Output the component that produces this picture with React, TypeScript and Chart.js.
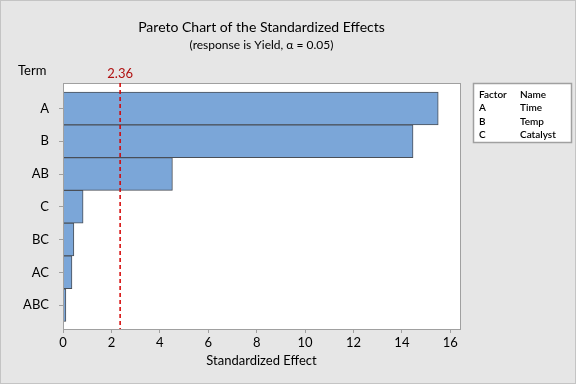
import React, { useEffect, useRef } from "react";
import { Chart, registerables } from "chart.js";

Chart.register(...registerables);

const terms = ["A", "B", "AB", "C", "BC", "AC", "ABC"];
const effects = [15.5, 14.46, 4.52, 0.83, 0.45, 0.37, 0.12];
const xTicks = [0, 2, 4, 6, 8, 10, 12, 14, 16];
const criticalValue = 2.36;
const factorCodes = ["A", "B", "C"];
const factorNames = ["Time", "Temp", "Catalyst"];

const FONT = "Lato, 'Noto Sans', sans-serif";

const decorPlugin = {
  id: "decor",
  beforeDraw(chart: any) {
    const { ctx, chartArea, width, height } = chart;
    ctx.save();
    ctx.fillStyle = "#e6e6e6";
    ctx.fillRect(0, 0, width, height);
    ctx.strokeStyle = "#c4c4c4";
    ctx.lineWidth = 1;
    ctx.strokeRect(0.5, 0.5, width - 1, height - 1);
    ctx.fillStyle = "#ffffff";
    ctx.fillRect(chartArea.left, chartArea.top, chartArea.right - chartArea.left, chartArea.bottom - chartArea.top);
    ctx.restore();
  },
  afterDraw(chart: any) {
    const { ctx, chartArea } = chart;
    const xs = chart.scales.x;
    const cx = (chartArea.left + chartArea.right) / 2;
    ctx.save();
    ctx.strokeStyle = "#a0a0a0";
    ctx.lineWidth = 1;
    ctx.strokeRect(Math.round(chartArea.left) + 0.5, Math.round(chartArea.top) + 0.5,
      Math.round(chartArea.right - chartArea.left), Math.round(chartArea.bottom - chartArea.top));
    const rx = xs.getPixelForValue(criticalValue);
    ctx.strokeStyle = "#d40000";
    ctx.lineWidth = 1.5;
    ctx.setLineDash([4, 3]);
    ctx.beginPath();
    ctx.moveTo(rx, chartArea.top);
    ctx.lineTo(rx, chartArea.bottom);
    ctx.stroke();
    ctx.setLineDash([]);
    ctx.fillStyle = "#b01010";
    ctx.font = `13px ${FONT}`;
    ctx.textAlign = "center";
    ctx.textBaseline = "middle";
    ctx.fillText(String(criticalValue), rx, 74);
    ctx.fillStyle = "#000000";
    ctx.font = `14px ${FONT}`;
    ctx.fillText("Pareto Chart of the Standardized Effects", cx, 27);
    ctx.font = `12px ${FONT}`;
    ctx.fillText("(response is Yield, \u03b1 = 0.05)", cx, 45);
    ctx.font = `13px ${FONT}`;
    ctx.fillText("Standardized Effect", cx, 361);
    ctx.textAlign = "left";
    ctx.fillText("Term", 18, 71);
    ctx.fillStyle = "#ffffff";
    ctx.fillRect(473, 83, 99, 60);
    ctx.strokeStyle = "#a0a0a0";
    ctx.strokeRect(473.5, 83.5, 98, 59);
    ctx.fillStyle = "#000000";
    ctx.font = `600 10px ${FONT}`;
    ctx.fillText("Factor", 479, 95);
    ctx.fillText("Name", 520, 95);
    factorCodes.forEach((c, i) => {
      ctx.fillText(c, 479, 108 + i * 13.3);
      ctx.fillText(factorNames[i], 520, 108 + i * 13.3);
    });
    ctx.restore();
  },
};

export default function App() {
  const ref = useRef<HTMLCanvasElement>(null);
  useEffect(() => {
    if (!ref.current) return;
    const chart = new Chart(ref.current, {
      type: "bar",
      data: {
        datasets: [
          {
            data: effects.map((v, i) => ({ x: v, y: i })),
            backgroundColor: "#7ba6d8",
            borderColor: "#4a4f57",
            borderWidth: 1,
            barPercentage: 1,
            categoryPercentage: 1,
          },
        ],
      },
      options: {
        indexAxis: "y",
        responsive: false,
        animation: false,
        layout: { padding: { left: 0, right: 116, top: 83, bottom: 0 } },
        plugins: { legend: { display: false }, tooltip: { enabled: false }, title: { display: false } },
        scales: {
          x: {
            type: "linear",
            min: 0,
            max: 16.4,
            offset: false,
            afterBuildTicks: (s: any) => {
              s.ticks = xTicks.map((v) => ({ value: v }));
            },
            afterFit: (s: any) => {
              s.height = 55;
            },
            grid: { drawOnChartArea: false, drawTicks: true, tickLength: 4, color: "#a0a0a0", offset: false },
            border: { display: true, color: "#a0a0a0" },
            ticks: { color: "#000000", font: { family: FONT, size: 13 }, padding: 2 },
          },
          y: {
            type: "linear",
            reverse: true,
            min: -0.78,
            max: 6.73,
            offset: false,
            afterBuildTicks: (s: any) => {
              s.ticks = terms.map((_, i) => ({ value: i }));
            },
            afterFit: (s: any) => {
              s.width = 63;
            },
            grid: { drawOnChartArea: false, drawTicks: true, tickLength: 4, color: "#a0a0a0", offset: false },
            border: { display: true, color: "#a0a0a0" },
            ticks: {
              color: "#000000",
              font: { family: FONT, size: 13 },
              padding: 10,
              callback: (v: any) => terms[Number(v)] ?? "",
            },
          },
        },
      },
      plugins: [decorPlugin],
    } as any);
    return () => chart.destroy();
  }, []);
  return (
    <div style={{ position: "fixed", left: 0, top: 0, width: 576, height: 384 }}>
      <canvas ref={ref} width={576} height={384} style={{ width: 576, height: 384 }} />
    </div>
  );
}
